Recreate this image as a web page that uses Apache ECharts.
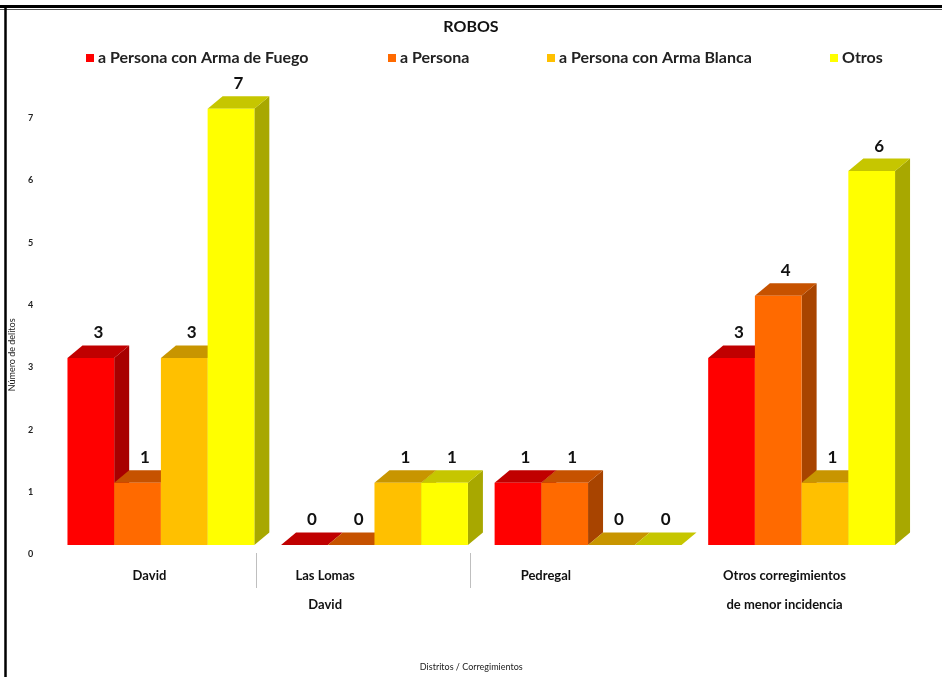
<!DOCTYPE html>
<html>
<head>
<meta charset="utf-8">
<script src="https://cdn.jsdelivr.net/npm/echarts@6/dist/echarts.min.js"></script>
<style>
html,body{margin:0;padding:0;background:#fff;}
#chart{width:942px;height:677px;}
</style>
</head>
<body>
<div id="chart"></div>
<script>
// ---- data ----
const categories = ['David', 'Las Lomas', 'Pedregal', 'Otros corregimientos'];
const categoryLabelLines = [['David'], ['Las Lomas', 'David'], ['Pedregal'], ['Otros corregimientos', 'de menor incidencia']];
const seriesNames = ['a Persona con Arma de Fuego', 'a Persona', 'a Persona con Arma Blanca', 'Otros'];
const armaFuego = [3, 0, 1, 3];
const aPersona = [1, 0, 1, 4];
const armaBlanca = [3, 1, 0, 1];
const otros = [7, 1, 0, 6];
const yMin = 0, yMax = 7, yStep = 1;

// ---- styles ----
const FONT = 'Lato';
const palettes = [
  {front: '#FF0000', top: '#C00000', side: '#A80000'},
  {front: '#FF6A00', top: '#C65200', side: '#A84400'},
  {front: '#FFC000', top: '#C89500', side: '#AA8200'},
  {front: '#FFFF00', top: '#C6C600', side: '#A8A800'}
];
const labelShift = [0, 76, 62, 12];
const legendLeft = [81, 383, 542, 825];
const seriesValues = [armaFuego, aPersona, armaBlanca, otros];

const DX = 15, DY = 12.5;

function makeRender(si, pal) {
  return function (params, api) {
    const c = api.value(0), v = api.value(1);
    const base = api.coord([c, 0]);
    const topP = api.coord([c, v]);
    const band = api.size([1, 0])[0];
    const bw = band * 0.875 / 4;
    const x0 = base[0] - 2 * bw + si * bw;
    const x1 = x0 + bw;
    const y0 = base[1], yv = topP[1];
    return {
      type: 'group',
      children: [
        {type: 'polygon', shape: {points: [[x1, yv], [x1 + DX, yv - DY], [x1 + DX, y0 - DY], [x1, y0]]},
         style: {fill: pal.side}},
        {type: 'polygon', shape: {points: [[x0, yv], [x1, yv], [x1 + DX, yv - DY], [x0 + DX, yv - DY]]},
         style: {fill: pal.top}},
        {type: 'rect', shape: {x: x0, y: yv, width: bw, height: y0 - yv},
         style: {fill: pal.front}},
        {type: 'text', style: {text: String(v), x: (x0 + x1) / 2 + DX / 2, y: yv - DY - 4,
          align: 'center', verticalAlign: 'bottom', fill: '#111',
          font: 'bold 17px ' + FONT}}
      ]
    };
  };
}

const series = seriesNames.map((name, si) => ({
  name: name,
  type: 'custom',
  xAxisIndex: 0, yAxisIndex: 0,
  itemStyle: {color: palettes[si].front},
  renderItem: makeRender(si, palettes[si]),
  encode: {x: 0, y: 1},
  data: seriesValues[si].map((v, i) => [i, v]),
  clip: false
}));

const legends = seriesNames.map((name, si) => ({
  data: [name],
  left: legendLeft[si],
  top: 45,
  icon: 'rect',
  itemWidth: 8,
  itemHeight: 8,
  itemGap: 4,
  selectedMode: false,
  textStyle: {fontFamily: FONT, fontSize: 16, fontWeight: 'bold', color: '#222', padding: [0, 0, 0, -1]}
}));

const rich = {};
labelShift.forEach((s, i) => {
  rich['s' + i] = {fontFamily: FONT, fontSize: 13, fontWeight: 'bold', color: '#111',
    lineHeight: 29, padding: [0, s, 0, 0]};
});

const chart = echarts.init(document.getElementById('chart'), null, {renderer: 'canvas'});
chart.setOption({
  backgroundColor: '#fff',
  animation: false,
  title: {text: 'ROBOS', left: 'center', top: 14,
    textStyle: {fontFamily: FONT, fontSize: 16, fontWeight: 'bold', color: '#111'}},
  legend: legends,
  grid: [
    {left: 53.6, right: 33.6, top: 108.7, bottom: 131.5},
    {left: 42.6, right: 44.6, top: 553, height: 35}
  ],
  xAxis: [
    {type: 'category', gridIndex: 0, data: categories,
     axisLine: {show: false}, axisTick: {show: false}, axisLabel: {show: false},
     name: 'Distritos / Corregimientos', nameLocation: 'middle', nameGap: 118,
     nameTextStyle: {fontFamily: FONT, fontSize: 9, color: '#222', padding: [0, 20, 0, 0]}},
    {type: 'category', gridIndex: 1, data: categories, position: 'top',
     axisLine: {show: false}, axisTick: {show: false},
     splitLine: {show: true, interval: (i) => i === 1 || i === 2, showMinLine: true, showMaxLine: false,
       lineStyle: {color: '#BFBFBF', width: 1}},
     axisLabel: {inside: true, margin: 8, interval: 0,
       formatter: (val, idx) => categoryLabelLines[idx].map(l => '{s' + idx + '|' + l + '}').join('\n'),
       rich: rich}}
  ],
  yAxis: [
    {type: 'value', gridIndex: 0, min: yMin, max: yMax, interval: yStep,
     axisLine: {show: false}, axisTick: {show: false}, splitLine: {show: false},
     axisLabel: {margin: 21, verticalAlign: 'top', lineHeight: 19, fontFamily: FONT, fontSize: 9, fontWeight: 'bold', color: '#222'},
     name: 'Número de delitos', nameLocation: 'middle', nameGap: 36,
     nameTextStyle: {fontFamily: FONT, fontSize: 9, color: '#222', padding: [0, 56, 0, 0]}},
    {type: 'value', gridIndex: 1, show: false}
  ],
  graphic: [
    {type: 'line', shape: {x1: 0, y1: 6.5, x2: 942, y2: 6.5}, style: {stroke: '#000', lineWidth: 3}},
    {type: 'line', shape: {x1: 0, y1: 9.5, x2: 942, y2: 9.5}, style: {stroke: '#555', lineWidth: 1}},
    {type: 'line', shape: {x1: 5.5, y1: 8, x2: 5.5, y2: 677}, style: {stroke: '#000', lineWidth: 2.5}}
  ],
  series: series
});
</script>
</body>
</html>
